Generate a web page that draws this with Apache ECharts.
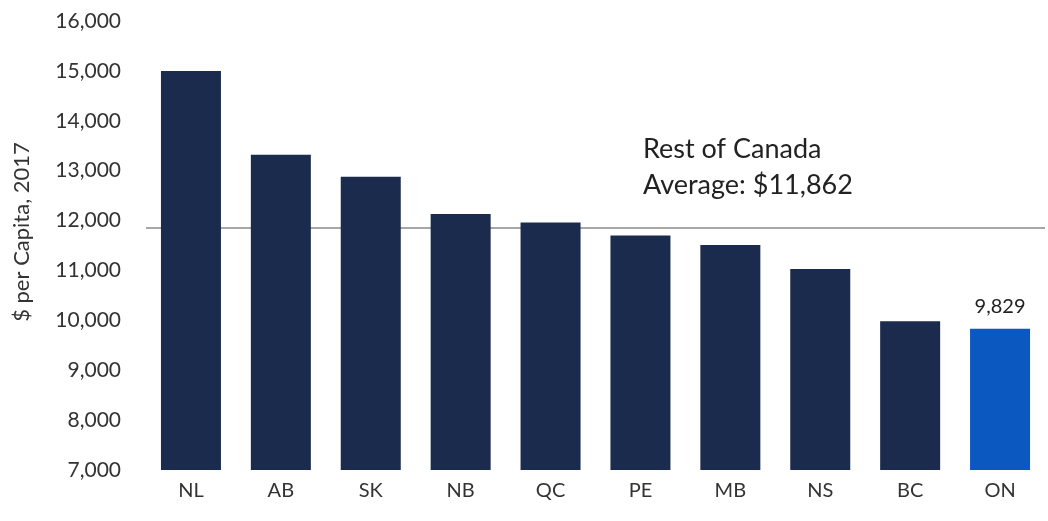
<!DOCTYPE html>
<html>
<head>
<meta charset="utf-8">
<script src="https://cdn.jsdelivr.net/npm/echarts@6/dist/echarts.min.js"></script>
<style>html,body{margin:0;padding:0;background:#fff;}#c{width:1048px;height:521px;}</style>
</head>
<body>
<div id="c"></div>
<script>
const categories = ['NL','AB','SK','NB','QC','PE','MB','NS','BC','ON'];
const values = [15000, 13320, 12880, 12130, 11960, 11700, 11510, 11030, 9980, 9829];
const highlight = 'ON';
const averageValue = 11862;
const yTicks = [7000, 16000, 1000];
const avgLabel = ['Rest of Canada', 'Average: $11,862'];
const yTitle = '$ per Capita, 2017';

const navy = '#1b2b4d';
const blue = '#0b58c0';
const font = 'Lato, "Open Sans", sans-serif';

const chart = echarts.init(document.getElementById('c'), null, {renderer: 'canvas'});
chart.setOption({
  animation: false,
  backgroundColor: '#fff',
  grid: {left: 146, right: 3, top: 21, bottom: 51},
  xAxis: {
    type: 'category',
    data: categories,
    axisLine: {show: false},
    axisTick: {show: false},
    axisLabel: {color: '#333', fontSize: 20, fontFamily: font, margin: 11}
  },
  yAxis: {
    type: 'value',
    min: yTicks[0], max: yTicks[1], interval: yTicks[2],
    splitLine: {show: false},
    axisLine: {show: false},
    axisTick: {show: false},
    axisLabel: {
      color: '#333', fontSize: 21, fontFamily: font, margin: 25,
      formatter: v => v.toLocaleString('en-US')
    }
  },
  graphic: [
    {
      type: 'text', left: 643, top: 131,
      style: {text: avgLabel.join('\n'), fontSize: 27, lineHeight: 36, fontFamily: font, fill: '#222'}
    },
    {
      type: 'text', x: 22, y: 232, rotation: Math.PI / 2,
      style: {text: yTitle, fontSize: 22, fontFamily: font, fill: '#333', align: 'center', verticalAlign: 'middle'}
    }
  ],
  series: [{
    type: 'bar',
    barWidth: 60,
    data: values.map((v, i) => ({
      value: v,
      itemStyle: {color: categories[i] === highlight ? blue : navy},
      label: categories[i] === highlight ? {
        show: true, position: 'top', distance: 12, color: '#222', fontSize: 20, fontFamily: font,
        formatter: p => p.value.toLocaleString('en-US')
      } : {show: false}
    })),
    markLine: {
      silent: true,
      symbol: 'none',
      z: 1,
      label: {show: false},
      lineStyle: {color: '#8a8a8a', width: 1.5, type: 'solid'},
      data: [{yAxis: averageValue}]
    }
  }]
});
</script>
</body>
</html>
